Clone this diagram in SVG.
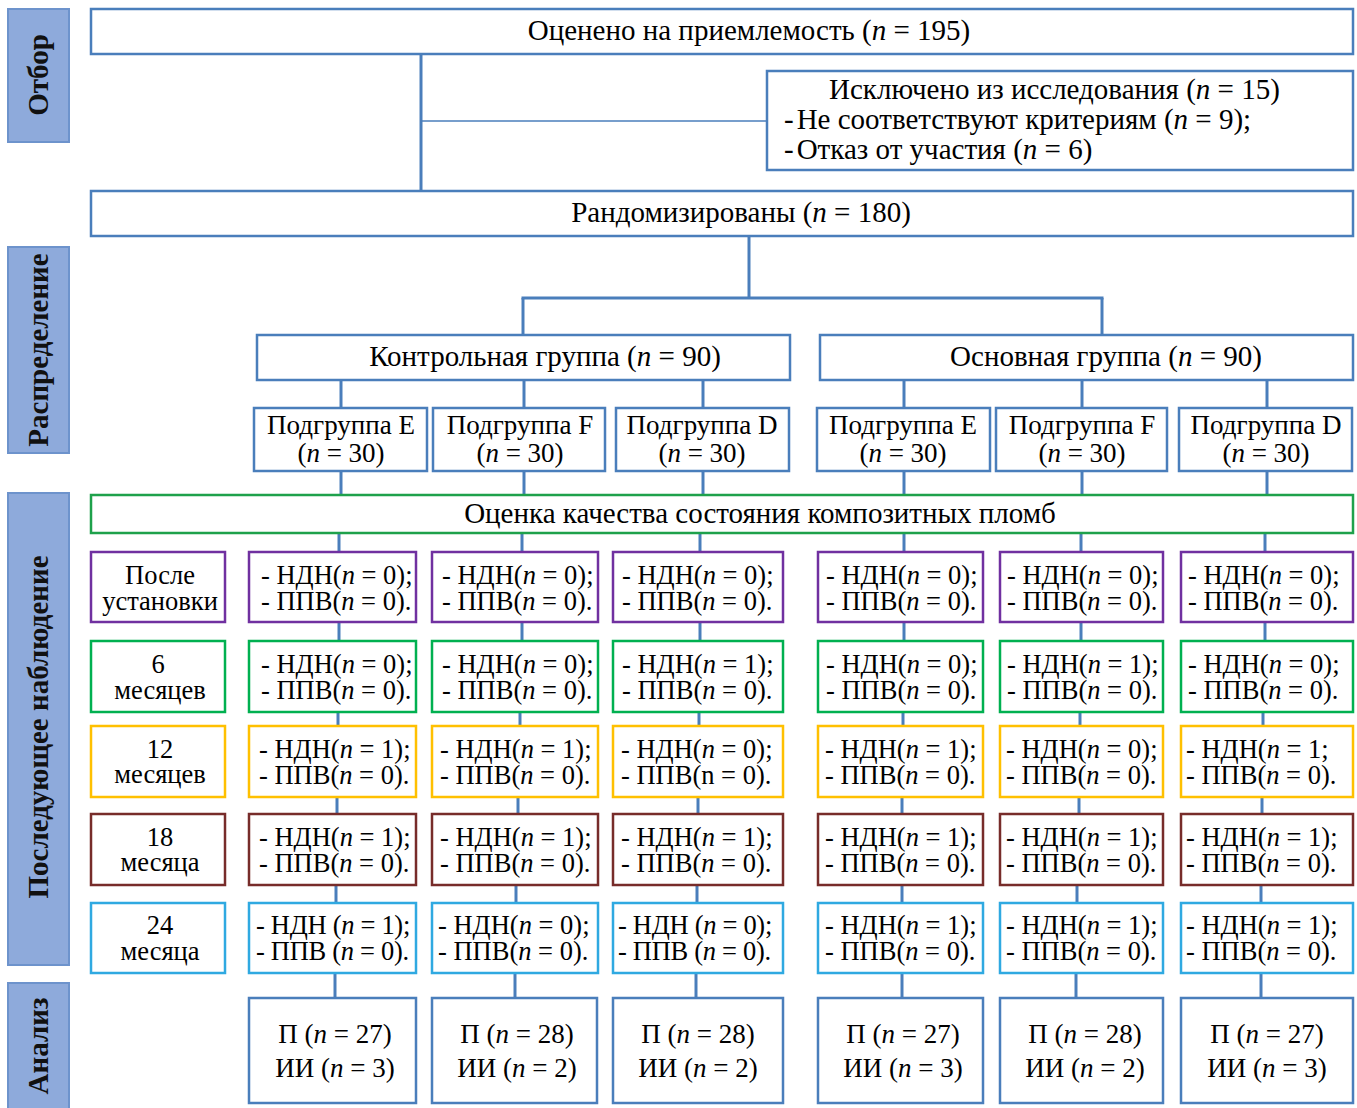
<svg xmlns="http://www.w3.org/2000/svg" width="1357" height="1108" viewBox="0 0 1357 1108">
<style>
text{font-family:"Liberation Serif","Times New Roman",serif;fill:#000;}
.t{font-size:29px;}
.s{font-size:27px;}
.lab{font-size:26.5px;}
.c{text-anchor:middle;}
.side rect{fill:#8eaadb;stroke:#6d93cc;stroke-width:2;}
.side text{font-size:29px;font-weight:bold;text-anchor:middle;fill:#111;}
.b{fill:#fff;stroke:#4a7ebb;stroke-width:2.5;}
.g{fill:#fff;stroke:#1ea14b;stroke-width:2.5;}
.p{fill:#fff;stroke:#7030a0;stroke-width:2.5;}
.gr{fill:#fff;stroke:#00b050;stroke-width:2.5;}
.y{fill:#fff;stroke:#ffc000;stroke-width:2.5;}
.r{fill:#fff;stroke:#772c2a;stroke-width:2.5;}
.lb{fill:#fff;stroke:#2fa9e1;stroke-width:2.5;}
.conn line{stroke:#4a7ebb;stroke-width:3;}
.thin{stroke-width:1.5 !important;}
.cell{font-size:26.5px;}
.an{font-size:27px;}
.i{font-style:italic;}
</style>

<g class="side" id="side-otbor"><rect x="8" y="9" width="61" height="133"/><text transform="translate(48,75) rotate(-90)">Отбор</text></g>
<g class="side" id="side-raspr"><rect x="8" y="247" width="61" height="206"/><text transform="translate(48,350) rotate(-90)">Распределение</text></g>
<g class="side" id="side-nabl"><rect x="8" y="493" width="61" height="472"/><text transform="translate(48,727) rotate(-90)">Последующее наблюдение</text></g>
<g class="side" id="side-analiz"><rect x="8" y="983" width="61" height="130"/><text transform="translate(48,1046) rotate(-90)">Анализ</text></g>

<g class="conn" id="connectors">
<line x1="421" y1="54" x2="421" y2="192"/>
<line class="thin" x1="421" y1="121" x2="767" y2="121"/>
<line x1="749" y1="236" x2="749" y2="299"/>
<line x1="521.5" y1="298" x2="1103.5" y2="298"/>
<line x1="523" y1="298" x2="523" y2="335"/>
<line x1="1102" y1="298" x2="1102" y2="335"/>
<line x1="341" y1="380" x2="341" y2="408"/><line x1="524" y1="380" x2="524" y2="408"/><line x1="703" y1="380" x2="703" y2="408"/>
<line x1="904" y1="380" x2="904" y2="408"/><line x1="1082" y1="380" x2="1082" y2="408"/><line x1="1267" y1="380" x2="1267" y2="408"/>
<line x1="341" y1="471" x2="341" y2="495"/><line x1="524" y1="471" x2="524" y2="495"/><line x1="703" y1="471" x2="703" y2="495"/>
<line x1="904" y1="471" x2="904" y2="495"/><line x1="1082" y1="471" x2="1082" y2="495"/><line x1="1267" y1="471" x2="1267" y2="495"/>
<line x1="339" y1="533" x2="339" y2="552"/><line x1="522" y1="533" x2="522" y2="552"/><line x1="700" y1="533" x2="700" y2="552"/>
<line x1="904" y1="533" x2="904" y2="552"/><line x1="1081" y1="533" x2="1081" y2="552"/><line x1="1265" y1="533" x2="1265" y2="552"/>
<line x1="339" y1="622" x2="339" y2="641"/><line x1="522" y1="622" x2="522" y2="641"/><line x1="700" y1="622" x2="700" y2="641"/>
<line x1="904" y1="622" x2="904" y2="641"/><line x1="1081" y1="622" x2="1081" y2="641"/><line x1="1265" y1="622" x2="1265" y2="641"/>
<line x1="338" y1="712" x2="338" y2="726"/><line x1="520" y1="712" x2="520" y2="726"/><line x1="699" y1="712" x2="699" y2="726"/>
<line x1="903" y1="712" x2="903" y2="726"/><line x1="1080" y1="712" x2="1080" y2="726"/><line x1="1263" y1="712" x2="1263" y2="726"/>
<line x1="337" y1="797" x2="337" y2="814"/><line x1="518" y1="797" x2="518" y2="814"/><line x1="698" y1="797" x2="698" y2="814"/>
<line x1="902" y1="797" x2="902" y2="814"/><line x1="1079" y1="797" x2="1079" y2="814"/><line x1="1262" y1="797" x2="1262" y2="814"/>
<line x1="336" y1="885" x2="336" y2="903"/><line x1="516" y1="885" x2="516" y2="903"/><line x1="697" y1="885" x2="697" y2="903"/>
<line x1="902" y1="885" x2="902" y2="903"/><line x1="1077" y1="885" x2="1077" y2="903"/><line x1="1261" y1="885" x2="1261" y2="903"/>
<line x1="335" y1="973" x2="335" y2="998"/><line x1="515" y1="973" x2="515" y2="998"/><line x1="696" y1="973" x2="696" y2="998"/>
<line x1="902" y1="973" x2="902" y2="998"/><line x1="1076" y1="973" x2="1076" y2="998"/><line x1="1261" y1="973" x2="1261" y2="998"/>
</g>

<g id="assessed"><rect class="b" x="91" y="9" width="1262" height="45"/><text class="t c" x="749" y="40">Оценено на приемлемость (<tspan class="i">n</tspan> = 195)</text></g>
<g id="excluded"><rect class="b" x="767" y="71" width="586" height="99"/>
<text class="t"><tspan x="829" y="99">Исключено из исследования (</tspan><tspan class="i">n</tspan><tspan> = 15)</tspan><tspan x="784" y="129">-</tspan><tspan dx="3">Не соответствуют критериям (</tspan><tspan class="i">n</tspan><tspan> = 9);</tspan><tspan x="784" y="159">-</tspan><tspan dx="3">Отказ от участия (</tspan><tspan class="i">n</tspan><tspan> = 6)</tspan></text></g>
<g id="randomized"><rect class="b" x="91" y="191" width="1262" height="45"/><text class="t c" x="741" y="222">Рандомизированы (<tspan class="i">n</tspan> = 180)</text></g>
<g id="control"><rect class="b" x="257" y="335" width="533" height="45"/><text class="t c" x="545" y="366">Контрольная группа (<tspan class="i">n</tspan> = 90)</text></g>
<g id="main"><rect class="b" x="820" y="335" width="533" height="45"/><text class="t c" x="1106" y="366">Основная группа (<tspan class="i">n</tspan> = 90)</text></g>

<g id="sub-c-e"><rect class="b" x="254" y="408" width="173" height="63"/><text class="s c"><tspan x="341" y="434">Подгруппа E</tspan><tspan x="341" y="462">(<tspan class="i">n</tspan> = 30)</tspan></text></g>
<g id="sub-c-f"><rect class="b" x="433" y="408" width="172" height="63"/><text class="s c"><tspan x="520" y="434">Подгруппа F</tspan><tspan x="520" y="462">(<tspan class="i">n</tspan> = 30)</tspan></text></g>
<g id="sub-c-d"><rect class="b" x="616" y="408" width="173" height="63"/><text class="s c"><tspan x="702" y="434">Подгруппа D</tspan><tspan x="702" y="462">(<tspan class="i">n</tspan> = 30)</tspan></text></g>
<g id="sub-m-e"><rect class="b" x="817" y="408" width="173" height="63"/><text class="s c"><tspan x="903" y="434">Подгруппа E</tspan><tspan x="903" y="462">(<tspan class="i">n</tspan> = 30)</tspan></text></g>
<g id="sub-m-f"><rect class="b" x="996" y="408" width="171" height="63"/><text class="s c"><tspan x="1082" y="434">Подгруппа F</tspan><tspan x="1082" y="462">(<tspan class="i">n</tspan> = 30)</tspan></text></g>
<g id="sub-m-d"><rect class="b" x="1179" y="408" width="173" height="63"/><text class="s c"><tspan x="1266" y="434">Подгруппа D</tspan><tspan x="1266" y="462">(<tspan class="i">n</tspan> = 30)</tspan></text></g>

<g id="assessment"><rect class="g" x="91" y="495" width="1262" height="38"/><text class="t c" x="760" y="523">Оценка качества состояния композитных пломб</text></g>

<!-- labels -->
<g id="lbl-0"><rect class="p" x="91" y="552" width="134" height="70"/><text class="lab c"><tspan x="160" y="584">После</tspan><tspan x="160" y="610">установки</tspan></text></g>
<g id="lbl-6"><rect class="gr" x="91" y="641" width="134" height="71"/><text class="lab c"><tspan x="158" y="673">6</tspan><tspan x="160" y="699">месяцев</tspan></text></g>
<g id="lbl-12"><rect class="y" x="91" y="726" width="134" height="71"/><text class="lab c"><tspan x="160" y="758">12</tspan><tspan x="160" y="783">месяцев</tspan></text></g>
<g id="lbl-18"><rect class="r" x="91" y="814" width="134" height="71"/><text class="lab c"><tspan x="160" y="846">18</tspan><tspan x="160" y="871">месяца</tspan></text></g>
<g id="lbl-24"><rect class="lb" x="91" y="903" width="134" height="70"/><text class="lab c"><tspan x="160" y="934">24</tspan><tspan x="160" y="960">месяца</tspan></text></g>

<!-- row 1 -->
<g id="r1c1"><rect class="p" x="249" y="552" width="167" height="70"/><text class="cell"><tspan x="261" y="584">- НДН(<tspan class="i">n</tspan> = 0);</tspan><tspan x="261" y="610">- ППВ(<tspan class="i">n</tspan> = 0).</tspan></text></g>
<g id="r1c2"><rect class="p" x="432" y="552" width="166" height="70"/><text class="cell"><tspan x="442" y="584">- НДН(<tspan class="i">n</tspan> = 0);</tspan><tspan x="442" y="610">- ППВ(<tspan class="i">n</tspan> = 0).</tspan></text></g>
<g id="r1c3"><rect class="p" x="613" y="552" width="170" height="70"/><text class="cell"><tspan x="622" y="584">- НДН(<tspan class="i">n</tspan> = 0);</tspan><tspan x="622" y="610">- ППВ(<tspan class="i">n</tspan> = 0).</tspan></text></g>
<g id="r1c4"><rect class="p" x="818" y="552" width="165" height="70"/><text class="cell"><tspan x="826" y="584">- НДН(<tspan class="i">n</tspan> = 0);</tspan><tspan x="826" y="610">- ППВ(<tspan class="i">n</tspan> = 0).</tspan></text></g>
<g id="r1c5"><rect class="p" x="1000" y="552" width="163" height="70"/><text class="cell"><tspan x="1007" y="584">- НДН(<tspan class="i">n</tspan> = 0);</tspan><tspan x="1007" y="610">- ППВ(<tspan class="i">n</tspan> = 0).</tspan></text></g>
<g id="r1c6"><rect class="p" x="1181" y="552" width="172" height="70"/><text class="cell"><tspan x="1188" y="584">- НДН(<tspan class="i">n</tspan> = 0);</tspan><tspan x="1188" y="610">- ППВ(<tspan class="i">n</tspan> = 0).</tspan></text></g>

<!-- row 2 -->
<g id="r2c1"><rect class="gr" x="249" y="641" width="167" height="71"/><text class="cell"><tspan x="261" y="673">- НДН(<tspan class="i">n</tspan> = 0);</tspan><tspan x="261" y="699">- ППВ(<tspan class="i">n</tspan> = 0).</tspan></text></g>
<g id="r2c2"><rect class="gr" x="432" y="641" width="166" height="71"/><text class="cell"><tspan x="442" y="673">- НДН(<tspan class="i">n</tspan> = 0);</tspan><tspan x="442" y="699">- ППВ(<tspan class="i">n</tspan> = 0).</tspan></text></g>
<g id="r2c3"><rect class="gr" x="613" y="641" width="170" height="71"/><text class="cell"><tspan x="622" y="673">- НДН(<tspan class="i">n</tspan> = 1);</tspan><tspan x="622" y="699">- ППВ(<tspan class="i">n</tspan> = 0).</tspan></text></g>
<g id="r2c4"><rect class="gr" x="818" y="641" width="165" height="71"/><text class="cell"><tspan x="826" y="673">- НДН(<tspan class="i">n</tspan> = 0);</tspan><tspan x="826" y="699">- ППВ(<tspan class="i">n</tspan> = 0).</tspan></text></g>
<g id="r2c5"><rect class="gr" x="1000" y="641" width="163" height="71"/><text class="cell"><tspan x="1007" y="673">- НДН(<tspan class="i">n</tspan> = 1);</tspan><tspan x="1007" y="699">- ППВ(<tspan class="i">n</tspan> = 0).</tspan></text></g>
<g id="r2c6"><rect class="gr" x="1181" y="641" width="172" height="71"/><text class="cell"><tspan x="1188" y="673">- НДН(<tspan class="i">n</tspan> = 0);</tspan><tspan x="1188" y="699">- ППВ(<tspan class="i">n</tspan> = 0).</tspan></text></g>

<!-- row 3 -->
<g id="r3c1"><rect class="y" x="249" y="726" width="167" height="71"/><text class="cell"><tspan x="259" y="758">- НДН(<tspan class="i">n</tspan> = 1);</tspan><tspan x="259" y="784">- ППВ(<tspan class="i">n</tspan> = 0).</tspan></text></g>
<g id="r3c2"><rect class="y" x="432" y="726" width="166" height="71"/><text class="cell"><tspan x="440" y="758">- НДН(<tspan class="i">n</tspan> = 1);</tspan><tspan x="440" y="784">- ППВ(<tspan class="i">n</tspan> = 0).</tspan></text></g>
<g id="r3c3"><rect class="y" x="613" y="726" width="170" height="71"/><text class="cell"><tspan x="621" y="758">- НДН(<tspan class="i">n</tspan> = 0);</tspan><tspan x="621" y="784">- ППВ(n = 0).</tspan></text></g>
<g id="r3c4"><rect class="y" x="818" y="726" width="165" height="71"/><text class="cell"><tspan x="825" y="758">- НДН(<tspan class="i">n</tspan> = 1);</tspan><tspan x="825" y="784">- ППВ(<tspan class="i">n</tspan> = 0).</tspan></text></g>
<g id="r3c5"><rect class="y" x="1000" y="726" width="163" height="71"/><text class="cell"><tspan x="1006" y="758">- НДН(<tspan class="i">n</tspan> = 0);</tspan><tspan x="1006" y="784">- ППВ(<tspan class="i">n</tspan> = 0).</tspan></text></g>
<g id="r3c6"><rect class="y" x="1181" y="726" width="172" height="71"/><text class="cell"><tspan x="1186" y="758">- НДН(<tspan class="i">n</tspan> = 1;</tspan><tspan x="1186" y="784">- ППВ(<tspan class="i">n</tspan> = 0).</tspan></text></g>

<!-- row 4 -->
<g id="r4c1"><rect class="r" x="249" y="814" width="167" height="71"/><text class="cell"><tspan x="259" y="846">- НДН(<tspan class="i">n</tspan> = 1);</tspan><tspan x="259" y="872">- ППВ(<tspan class="i">n</tspan> = 0).</tspan></text></g>
<g id="r4c2"><rect class="r" x="432" y="814" width="166" height="71"/><text class="cell"><tspan x="440" y="846">- НДН(<tspan class="i">n</tspan> = 1);</tspan><tspan x="440" y="872">- ППВ(<tspan class="i">n</tspan> = 0).</tspan></text></g>
<g id="r4c3"><rect class="r" x="613" y="814" width="170" height="71"/><text class="cell"><tspan x="621" y="846">- НДН(<tspan class="i">n</tspan> = 1);</tspan><tspan x="621" y="872">- ППВ(<tspan class="i">n</tspan> = 0).</tspan></text></g>
<g id="r4c4"><rect class="r" x="818" y="814" width="165" height="71"/><text class="cell"><tspan x="825" y="846">- НДН(<tspan class="i">n</tspan> = 1);</tspan><tspan x="825" y="872">- ППВ(<tspan class="i">n</tspan> = 0).</tspan></text></g>
<g id="r4c5"><rect class="r" x="1000" y="814" width="163" height="71"/><text class="cell"><tspan x="1006" y="846">- НДН(<tspan class="i">n</tspan> = 1);</tspan><tspan x="1006" y="872">- ППВ(<tspan class="i">n</tspan> = 0).</tspan></text></g>
<g id="r4c6"><rect class="r" x="1181" y="814" width="172" height="71"/><text class="cell"><tspan x="1186" y="846">- НДН(<tspan class="i">n</tspan> = 1);</tspan><tspan x="1186" y="872">- ППВ(<tspan class="i">n</tspan> = 0).</tspan></text></g>

<!-- row 5 -->
<g id="r5c1"><rect class="lb" x="249" y="903" width="167" height="70"/><text class="cell" letter-spacing="-0.3"><tspan x="256" y="934">- НДН (<tspan class="i">n</tspan> = 1);</tspan><tspan x="256" y="960">- ППВ (<tspan class="i">n</tspan> = 0).</tspan></text></g>
<g id="r5c2"><rect class="lb" x="432" y="903" width="166" height="70"/><text class="cell"><tspan x="438" y="934">- НДН(<tspan class="i">n</tspan> = 0);</tspan><tspan x="438" y="960">- ППВ(<tspan class="i">n</tspan> = 0).</tspan></text></g>
<g id="r5c3"><rect class="lb" x="613" y="903" width="170" height="70"/><text class="cell" letter-spacing="-0.3"><tspan x="618" y="934">- НДН (<tspan class="i">n</tspan> = 0);</tspan><tspan x="618" y="960">- ППВ (<tspan class="i">n</tspan> = 0).</tspan></text></g>
<g id="r5c4"><rect class="lb" x="818" y="903" width="165" height="70"/><text class="cell"><tspan x="825" y="934">- НДН(<tspan class="i">n</tspan> = 1);</tspan><tspan x="825" y="960">- ППВ(<tspan class="i">n</tspan> = 0).</tspan></text></g>
<g id="r5c5"><rect class="lb" x="1000" y="903" width="163" height="70"/><text class="cell"><tspan x="1006" y="934">- НДН(<tspan class="i">n</tspan> = 1);</tspan><tspan x="1006" y="960">- ППВ(<tspan class="i">n</tspan> = 0).</tspan></text></g>
<g id="r5c6"><rect class="lb" x="1181" y="903" width="172" height="70"/><text class="cell"><tspan x="1186" y="934">- НДН(<tspan class="i">n</tspan> = 1);</tspan><tspan x="1186" y="960">- ППВ(<tspan class="i">n</tspan> = 0).</tspan></text></g>

<!-- analysis -->
<g id="a1"><rect class="b" x="249" y="998" width="167" height="105"/><text class="an c"><tspan x="335" y="1043">П (<tspan class="i">n</tspan> = 27)</tspan><tspan x="335" y="1077">ИИ (<tspan class="i">n</tspan> = 3)</tspan></text></g>
<g id="a2"><rect class="b" x="432" y="998" width="165" height="105"/><text class="an c"><tspan x="517" y="1043">П (<tspan class="i">n</tspan> = 28)</tspan><tspan x="517" y="1077">ИИ (<tspan class="i">n</tspan> = 2)</tspan></text></g>
<g id="a3"><rect class="b" x="613" y="998" width="170" height="105"/><text class="an c"><tspan x="698" y="1043">П (<tspan class="i">n</tspan> = 28)</tspan><tspan x="698" y="1077">ИИ (<tspan class="i">n</tspan> = 2)</tspan></text></g>
<g id="a4"><rect class="b" x="818" y="998" width="165" height="105"/><text class="an c"><tspan x="903" y="1043">П (<tspan class="i">n</tspan> = 27)</tspan><tspan x="903" y="1077">ИИ (<tspan class="i">n</tspan> = 3)</tspan></text></g>
<g id="a5"><rect class="b" x="1000" y="998" width="163" height="105"/><text class="an c"><tspan x="1085" y="1043">П (<tspan class="i">n</tspan> = 28)</tspan><tspan x="1085" y="1077">ИИ (<tspan class="i">n</tspan> = 2)</tspan></text></g>
<g id="a6"><rect class="b" x="1181" y="998" width="172" height="105"/><text class="an c"><tspan x="1267" y="1043">П (<tspan class="i">n</tspan> = 27)</tspan><tspan x="1267" y="1077">ИИ (<tspan class="i">n</tspan> = 3)</tspan></text></g>
</svg>
